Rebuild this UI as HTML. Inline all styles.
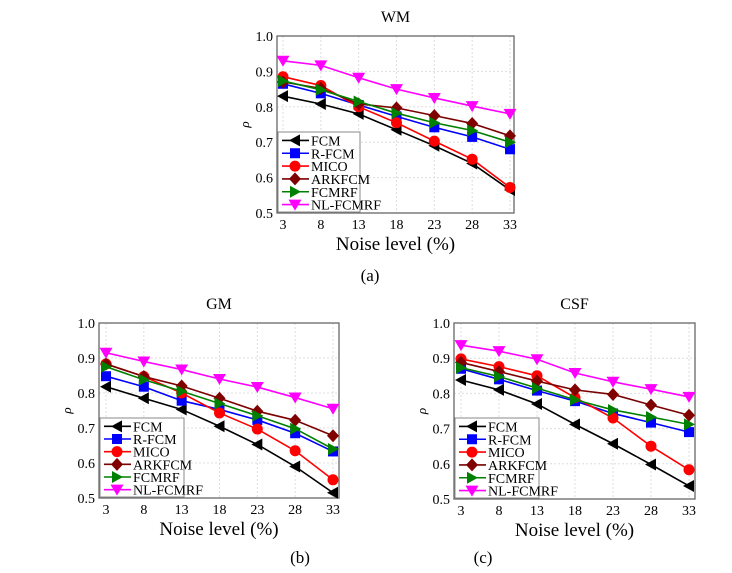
<!DOCTYPE html>
<html><head><meta charset="utf-8"><style>
body{margin:0;background:#fff;}
svg{display:block;font-family:"Liberation Serif",serif;}
</style></head><body>
<svg id="fig" width="732" height="573" viewBox="0 0 732 573"></svg>
<script>
const xCats=[3,8,13,18,23,28,33];
const yTicks=[0.5,0.6,0.7,0.8,0.9,1.0];
const seriesNames=["FCM","R-FCM","MICO","ARKFCM","FCMRF","NL-FCMRF"];
const wmFCM=[.83,.808,.78,.735,.69,.64,.565];
const wmRFCM=[.865,.838,.805,.773,.742,.715,.68];
const wmMICO=[.885,.86,.8,.755,.703,.652,.572];
const wmARK=[.87,.852,.808,.797,.775,.753,.718];
const wmFCMRF=[.873,.848,.815,.782,.755,.733,.70];
const wmNL=[.93,.917,.882,.85,.825,.802,.78];
const gmFCM=[.818,.785,.753,.705,.653,.59,.515];
const gmRFCM=[.848,.818,.778,.753,.723,.685,.633];
const gmMICO=[.883,.847,.8,.743,.697,.635,.552];
const gmARK=[.883,.847,.82,.785,.748,.722,.678];
const gmFCMRF=[.875,.838,.805,.77,.735,.698,.64];
const gmNL=[.915,.89,.867,.84,.817,.787,.755];
const csfFCM=[.838,.81,.77,.712,.657,.598,.537];
const csfRFCM=[.87,.84,.808,.778,.743,.717,.69];
const csfMICO=[.898,.876,.85,.788,.73,.65,.583];
const csfARK=[.888,.862,.835,.81,.797,.767,.738];
const csfFCMRF=[.873,.848,.815,.782,.753,.733,.712];
const csfNL=[.937,.92,.897,.858,.833,.812,.79];

const colors=["#000000","#0000ff","#ff0000","#7b0000","#008000","#ff00ff"];
const markerColors=["#000000","#0000ff","#ff0000","#800000","#008000","#ff00ff"];
const NS="http://www.w3.org/2000/svg";
const svg=document.getElementById('fig');
function mk(tag,attrs,parent){const e=document.createElementNS(NS,tag);for(const k in attrs)e.setAttribute(k,attrs[k]);(parent||svg).appendChild(e);return e;}
function marker(g,i,x,y){
  const c=markerColors[i];let e;
  if(i===0) e=mk('polygon',{points:`${x-6},${y} ${x+5},${y-6} ${x+5},${y+6}`,fill:c},g);
  else if(i===1) e=mk('rect',{x:x-5,y:y-5,width:10,height:10,fill:c},g);
  else if(i===2) e=mk('circle',{cx:x,cy:y,r:5.5,fill:c},g);
  else if(i===3) e=mk('polygon',{points:`${x},${y-6.5} ${x+6},${y} ${x},${y+6.5} ${x-6},${y}`,fill:c},g);
  else if(i===4) e=mk('polygon',{points:`${x+6},${y} ${x-5},${y-6} ${x-5},${y+6}`,fill:c},g);
  else e=mk('polygon',{points:`${x-6.5},${y-5} ${x+6.5},${y-5} ${x},${y+6}`,fill:c},g);
  return e;
}
function chart(cfg){
  const g=mk('g',{});
  
  
  const {L,R,T,B,x0,x1}=cfg;
  const xs=v=>x0+(v-xCats[0])/(xCats[xCats.length-1]-xCats[0])*(x1-x0);
  const ys=v=>B-(v-0.5)/0.5*(B-T);
  mk('rect',{x:L,y:T,width:R-L,height:B-T,fill:'#fff'},g);
  xCats.forEach(c=>{const l=mk('line',{x1:xs(c),x2:xs(c),y1:T,y2:B,stroke:'#ddd','stroke-dasharray':'2,2'},g);
    
    const t=mk('text',{x:xs(c),y:B+16,'text-anchor':'middle','font-size':14},g);t.textContent=c;
    });
  yTicks.forEach(v=>{const l=mk('line',{x1:L,x2:R,y1:ys(v),y2:ys(v),stroke:'#ddd','stroke-dasharray':'2,2'},g);
    
    const t=mk('text',{x:L-4,y:ys(v)+5,'text-anchor':'end','font-size':14},g);t.textContent=v.toFixed(1);
    });
  const ax=mk('rect',{x:L,y:T,width:R-L,height:B-T,fill:'none',stroke:'#666','stroke-width':1.3},g);
  
  const tt=mk('text',{x:(L+R)/2,y:T-14,'text-anchor':'middle','font-size':16},g);tt.textContent=cfg.title;
  
  const xl=mk('text',{x:(L+R)/2,y:B+37,'text-anchor':'middle','font-size':19},g);xl.textContent='Noise level (%)';
  
  const yl=mk('text',{x:0,y:0,'text-anchor':'middle','font-size':13,'font-style':'italic',transform:`translate(${L-28},${(T+B)/2}) rotate(-90)`},g);yl.textContent='ρ';
  
  cfg.data.forEach((arr,i)=>{
    const pts=arr.map((v,j)=>`${xs(xCats[j])},${ys(v)}`).join(' ');
    const pl=mk('polyline',{points:pts,fill:'none',stroke:colors[i],'stroke-width':1.6},g);
    
    
    arr.forEach((v,j)=>{const m=marker(g,i,xs(xCats[j]),ys(v));
      });
  });
  const lg=mk('g',{},g);
  
  const lw=cfg.lw,lh=B-T-cfg.lt;
  mk('rect',{x:L+1,y:B-lh,width:lw,height:lh-1,fill:'#fff',stroke:'#888'},lg);
  const step=(lh-4)/6;
  seriesNames.forEach((n,i)=>{
    const cy=B-lh+2+step*(i+0.5);
    const e=mk('g',{},lg);
    
    mk('line',{x1:L+5,x2:L+32,y1:cy,y2:cy,stroke:colors[i],'stroke-width':1.6},e);
    marker(e,i,L+18,cy);
    const t=mk('text',{x:L+34,y:cy+5,'font-size':14},e);t.textContent=n;
  });
  return g;
}
chart({name:'wm-chart',title:'WM',L:277,R:514,T:36,B:213,x0:283,x1:510,lw:82,lt:96,
  data:[wmFCM,wmRFCM,wmMICO,wmARK,wmFCMRF,wmNL]});
chart({name:'gm-chart',title:'GM',L:99,R:339,T:323,B:498,x0:106,x1:333,lw:84,lt:95,
  data:[gmFCM,gmRFCM,gmMICO,gmARK,gmFCMRF,gmNL]});
chart({name:'csf-chart',title:'CSF',L:454,R:695,T:323,B:499,x0:461,x1:689,lw:84,lt:95,
  data:[csfFCM,csfRFCM,csfMICO,csfARK,csfFCMRF,csfNL]});
[['(a)',370,281],['(b)',300,563],['(c)',483,563]].forEach(([s,x,y])=>{
  const t=mk('text',{x:x,y:y,'text-anchor':'middle','font-size':17});t.textContent=s;
  
});
</script>
</body></html>
